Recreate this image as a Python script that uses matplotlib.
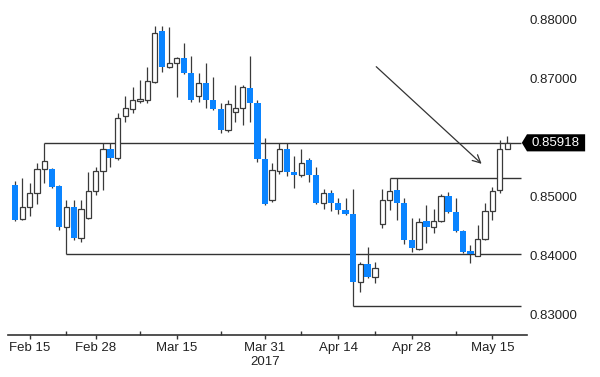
import matplotlib
matplotlib.use("Agg")
import matplotlib.pyplot as plt
import pandas as pd
from matplotlib.patches import Rectangle, Polygon


# -----------------------------
# Data (daily OHLC)
# -----------------------------
DATES = pd.bdate_range("2017-02-13", periods=68)

OPENS = [0.8520, 0.8463, 0.8483, 0.8506, 0.8548, 0.8548, 0.8519, 0.8449, 0.8483, 0.8431,
         0.8464, 0.8510, 0.8544, 0.8581, 0.8566, 0.8637, 0.8649, 0.8663, 0.8664, 0.8695,
         0.8781, 0.8720, 0.8727, 0.8736, 0.8710, 0.8671, 0.8693, 0.8664, 0.8649, 0.8614,
         0.8644, 0.8651, 0.8685, 0.8659, 0.8564, 0.8495, 0.8544, 0.8581, 0.8542, 0.8537,
         0.8562, 0.8537, 0.8490, 0.8506, 0.8490, 0.8478, 0.8471, 0.8356, 0.8386, 0.8364,
         0.8454, 0.8495, 0.8512, 0.8490, 0.8427, 0.8412, 0.8459, 0.8449, 0.8459, 0.8501,
         0.8475, 0.8442, 0.8409, 0.8400, 0.8429, 0.8476, 0.8512, 0.8581]

HIGHS = [0.8527, 0.8532, 0.8524, 0.8557, 0.85918, 0.8549, 0.8520, 0.8495, 0.8495, 0.8495,
         0.8542, 0.8551, 0.8592, 0.8592, 0.8642, 0.8671, 0.8686, 0.8698, 0.8720, 0.8790,
         0.8790, 0.8788, 0.8737, 0.8761, 0.8739, 0.8710, 0.8727, 0.8703, 0.8659, 0.8664,
         0.8690, 0.8690, 0.8739, 0.8664, 0.8600, 0.8557, 0.8592, 0.8592, 0.8569, 0.8581,
         0.8566, 0.8551, 0.8513, 0.8512, 0.8498, 0.8498, 0.8513, 0.8390, 0.8415, 0.8390,
         0.8513, 0.8532, 0.8532, 0.8498, 0.8464, 0.8464, 0.8486, 0.8480, 0.8505, 0.8508,
         0.8498, 0.8444, 0.8419, 0.8453, 0.8490, 0.8517, 0.8597, 0.8603]

LOWS = [0.8459, 0.8461, 0.8468, 0.8488, 0.8524, 0.8515, 0.8444, 0.8403, 0.8427, 0.8424,
        0.8463, 0.8503, 0.8512, 0.8551, 0.8562, 0.8627, 0.8642, 0.8659, 0.8659, 0.8693,
        0.8712, 0.8718, 0.8669, 0.8708, 0.8661, 0.8661, 0.8651, 0.8647, 0.8608, 0.8610,
        0.8627, 0.8622, 0.8627, 0.8559, 0.8486, 0.8492, 0.8539, 0.8536, 0.8515, 0.8534,
        0.8525, 0.8488, 0.8480, 0.8476, 0.8471, 0.8469, 0.8315, 0.8339, 0.8363, 0.8354,
        0.8447, 0.8478, 0.8461, 0.8420, 0.8407, 0.8410, 0.8422, 0.8439, 0.8458, 0.8473,
        0.8441, 0.8405, 0.8388, 0.8400, 0.8427, 0.8461, 0.8506, 0.8581]

CLOSES = [0.8461, 0.8483, 0.8506, 0.8548, 0.8561, 0.8517, 0.8449, 0.8483, 0.8431, 0.8480,
          0.8510, 0.8544, 0.8581, 0.8566, 0.8634, 0.8651, 0.8664, 0.8666, 0.8697, 0.8778,
          0.8720, 0.8727, 0.8736, 0.8710, 0.8664, 0.8693, 0.8664, 0.8649, 0.8614, 0.8658,
          0.8651, 0.8686, 0.8659, 0.8564, 0.8488, 0.8546, 0.8581, 0.8542, 0.8537, 0.8557,
          0.8537, 0.8490, 0.8506, 0.8490, 0.8478, 0.8471, 0.8356, 0.8386, 0.8364, 0.8380,
          0.8495, 0.8510, 0.8490, 0.8427, 0.8414, 0.8458, 0.8449, 0.8459, 0.8501, 0.8475,
          0.8442, 0.8407, 0.8403, 0.8429, 0.8476, 0.8510, 0.8581, 0.85918]

# support / resistance lines: price level and the day they start from
LEVEL_PRICES = [0.85918, 0.8532, 0.8403, 0.8315]
LEVEL_STARTS = ["2017-02-17", "2017-04-25", "2017-02-22", "2017-04-18"]

LAST_PRICE = 0.85918

Y_TICKS = [0.83, 0.84, 0.85, 0.87, 0.88]   # 0.86 sits under the price tag
X_LABEL_DATES = ["2017-02-15", "2017-02-28", "2017-03-15", "2017-03-31",
                 "2017-04-14", "2017-04-28", "2017-05-15"]
X_LABELS = ["Feb 15", "Feb 28", "Mar 15", "Mar 31\n2017", "Apr 14", "Apr 28", "May 15"]
X_MINOR_DATES = ["2017-02-22", "2017-03-08", "2017-03-23", "2017-04-07",
                 "2017-04-21", "2017-05-08"]

UP_EDGE = "#3a3a3a"
DOWN_FILL = "#0a84ff"
LINE_COL = "#333333"
FONT = ["Liberation Sans Narrow", "Liberation Sans", "DejaVu Sans"]


def day_index(date_str):
    return DATES.get_loc(pd.Timestamp(date_str))


def draw_candles(ax):
    x = list(range(len(DATES)))
    ax.vlines(x, LOWS, HIGHS, color=UP_EDGE, lw=0.9, zorder=2)
    for i, (o, c) in enumerate(zip(OPENS, CLOSES)):
        lo, hi = min(o, c), max(o, c)
        h = max(hi - lo, 0.00005)
        if c >= o:
            w = 0.72
            rect = Rectangle((i - w / 2, lo), w, h, facecolor="white",
                             edgecolor=UP_EDGE, lw=0.9, zorder=3)
        else:
            w = 0.86
            rect = Rectangle((i - w / 2, lo), w, h, facecolor=DOWN_FILL,
                             edgecolor="none", zorder=3)
        ax.add_patch(rect)


def main():
    fig = plt.figure(figsize=(6.0, 3.77), dpi=100)
    ax = fig.add_axes([8 / 600, 42 / 377, 519 / 600, 327 / 377])

    draw_candles(ax)

    # horizontal levels run to the right edge
    x_end = 68.9
    for price, start in zip(LEVEL_PRICES, LEVEL_STARTS):
        ax.hlines(price, day_index(start), x_end, color=LINE_COL, lw=1.0, zorder=1)

    # arrow pointing at the breakout
    ax.annotate("", xy=(63.8, 0.8553), xytext=(48.9, 0.8724),
                arrowprops=dict(arrowstyle="->", color=LINE_COL, lw=0.9,
                                mutation_scale=14))

    ax.set_xlim(-0.95, 69.7)
    ax.set_ylim(0.82661, 0.88203)

    # axes styling
    for side in ("top", "left", "right"):
        ax.spines[side].set_visible(False)
    ax.spines["bottom"].set_color(LINE_COL)
    ax.spines["bottom"].set_linewidth(1.2)

    ax.yaxis.tick_right()
    ax.set_yticks(Y_TICKS)
    ax.set_yticklabels([f"{v:.5f}" for v in Y_TICKS], family=FONT, fontsize=9.5,
                       color="#222222")
    ax.tick_params(axis="y", length=0, pad=2)

    ax.set_xticks([day_index(d) for d in X_LABEL_DATES])
    ax.set_xticklabels(X_LABELS, family=FONT, fontsize=9.5, color="#222222")
    ax.set_xticks([day_index(d) for d in X_MINOR_DATES], minor=True)
    ax.tick_params(axis="x", which="major", length=3, width=1, direction="out",
                   color=LINE_COL, pad=2)
    ax.tick_params(axis="x", which="minor", length=3, width=1, direction="in",
                   color=LINE_COL)

    # last price tag
    tr = ax.get_yaxis_transform()
    half = 0.00145
    tag = Polygon([(0.990, LAST_PRICE), (1.0, LAST_PRICE + half),
                   (1.112, LAST_PRICE + half), (1.112, LAST_PRICE - half),
                   (1.0, LAST_PRICE - half)],
                  closed=True, facecolor="black", edgecolor="none",
                  transform=tr, clip_on=False, zorder=5)
    ax.add_patch(tag)
    ax.text(1.008, LAST_PRICE, f"{LAST_PRICE:.5f}", transform=tr, color="white",
            fontsize=9.5, family=FONT, va="center", ha="left", zorder=6)

    fig.savefig("out.png", dpi=100, facecolor="white")
    plt.close(fig)


if __name__ == "__main__":
    main()
